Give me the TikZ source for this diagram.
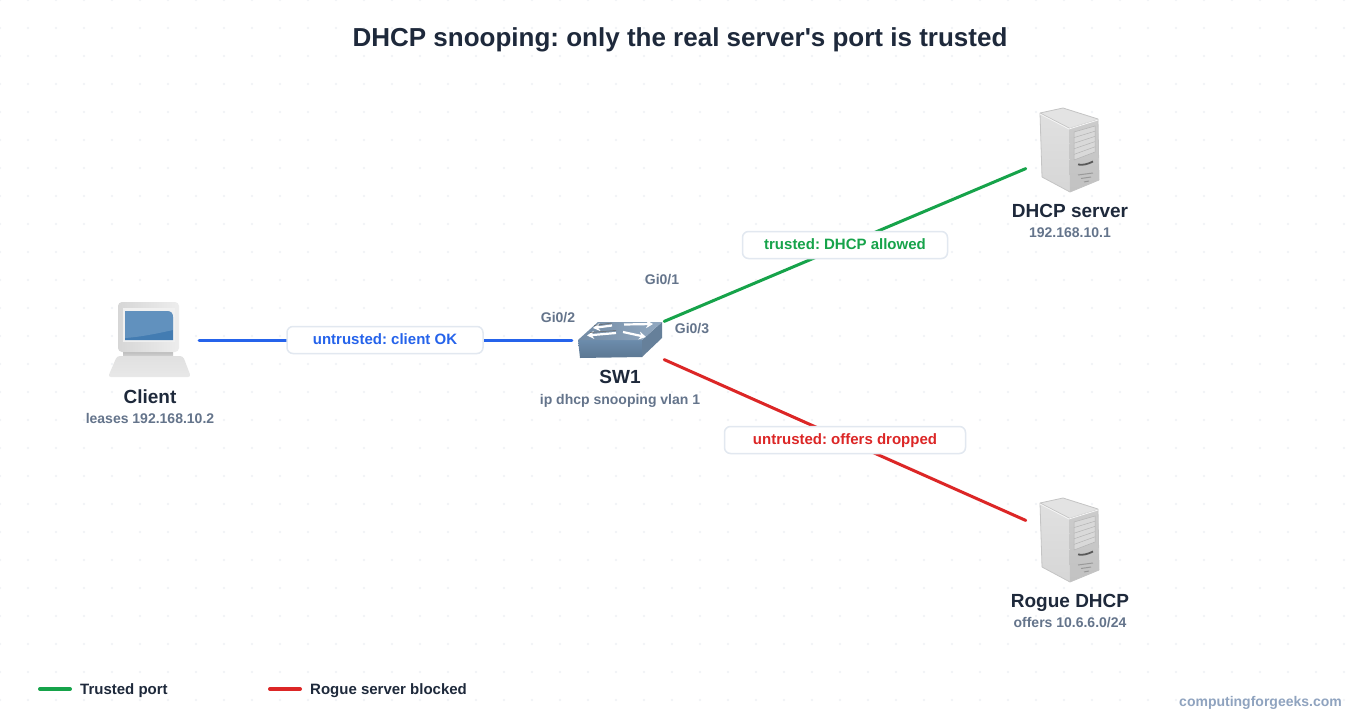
\documentclass[tikz,border=0pt]{standalone}
\usepackage{fontspec}
\setmainfont{Liberation Sans}
\usetikzlibrary{arrows.meta}
\definecolor{inkdark}{HTML}{1E293B}
\definecolor{inkgrey}{HTML}{64748B}
\definecolor{inkfoot}{HTML}{8FA3BF}
\definecolor{griddot}{HTML}{EEF1F5}
\definecolor{boxedge}{HTML}{E2E8F0}
\definecolor{okgreen}{HTML}{16A34A}
\definecolor{badred}{HTML}{DC2626}
\definecolor{okblue}{HTML}{2563EB}
\definecolor{srvedge}{HTML}{C4C4C4}
\definecolor{srvline}{HTML}{B4B4B4}
\definecolor{swtop}{HTML}{7F9AB6}
\definecolor{swfront}{HTML}{6C8CAC}
\definecolor{swside}{HTML}{66809A}
\definecolor{scrblue}{HTML}{437CB2}
\tikzset{
  device/.style={minimum width=88pt,minimum height=88pt,inner sep=0pt},
  devname/.style={font=\fontsize{19}{21}\selectfont\bfseries,text=inkdark,inner sep=0pt,anchor=base},
  devsub/.style={font=\fontsize{14}{16}\selectfont\bfseries,text=inkgrey,inner sep=0pt,anchor=base},
  portname/.style={font=\fontsize{14}{16}\selectfont\bfseries,text=inkgrey,inner sep=0pt,anchor=base},
  link/.style={line width=3pt,line cap=round},
  linklabel/.style={draw=boxedge,line width=1.5pt,fill=white,rounded corners=6pt,
    minimum height=27pt,inner sep=0pt,text height=11pt,text depth=3pt,
    font=\fontsize{15}{17}\selectfont\bfseries},
  legendtext/.style={font=\fontsize{15}{17}\selectfont\bfseries,text=inkdark,inner sep=0pt,anchor=base west}
}
\newcommand{\servericon}[2]{
  \begin{scope}[shift={(#1,#2)}]
    \fill[black!11] (-30,-37) -- (-7,-42) -- (28,-31) -- (-1,-22) -- cycle;
    \shade[top color=black!12,bottom color=black!16] (-30,-37) -- (-1,-22) -- (0,42) -- (-28,27) -- cycle;
    \shade[top color=black!20,bottom color=black!24] (-1,-22) -- (28,-31) -- (29,30) -- (0,42) -- cycle;
    \draw[srvedge,line width=.8pt,line join=round] (-1,-22) -- (-30,-37) -- (-7,-42) -- (28,-31) -- (29,30) -- (0,42) -- (-28,27) -- (-30,-37);
    \draw[black!4,line width=.8pt] (-30,-36) -- (-1,-21) -- (28,-30);
    \fill[black!15,draw=srvline,line width=.5pt] (4,-18) -- (25,-24) -- (25,2) -- (4,10) -- cycle;
    \foreach \i in {1,2,3,4} {
      \draw[srvline,line width=.5pt] (4,-18+5.6*\i) -- (25,-24+5.2*\i);
    }
    \draw[black!65,line width=1.8pt] (8,14.5) .. controls (13,15.5) and (18,14) .. (23,11.5);
    \draw[black!40,line width=1pt] (8,25) -- (23,23);
    \draw[black!40,line width=1pt] (11,28.5) -- (21,27);
    \draw[black!40,line width=1pt] (14,32) -- (19,31);
  \end{scope}
}
\newcommand{\clienticon}[2]{
  \begin{scope}[shift={(#1,#2)}]
    \shade[top color=black!28,bottom color=black!16] (-27,11) rectangle (23,17);
    \shade[top color=black!12,middle color=black!24,bottom color=black!9,rounded corners=3pt]
      (-33,16) -- (33,16) -- (41,37) -- (-42,37) -- cycle;
    \shade[left color=black!16,right color=black!7,rounded corners=4pt] (-32,-38) rectangle (29,12);
    \fill[white!94!black] (-27,-32) rectangle (25,2);
    \fill[scrblue] (-25,-29) -- (17,-29) .. controls (21,-29) and (23,-27) .. (23,-23) -- (23,0) -- (-25,0) -- cycle;
    \fill[white,opacity=.16] (17,-29) .. controls (21,-29) and (23,-27) .. (23,-23) -- (23,-10)
      .. controls (5,-6) and (-10,-3) .. (-25,-2) -- (-25,-29) -- cycle;
  \end{scope}
}
\newcommand{\switchicon}[2]{
  \begin{scope}[shift={(#1,#2)}]
    \shade[top color=swfront,bottom color=swfront!85!black] (-42,0) -- (22,0) -- (22,17) -- (-40,18) -- cycle;
    \fill[swside] (22,0) -- (42,-18) -- (42,-2) -- (22,17) -- cycle;
    \shade[left color=swtop!90!black,right color=swtop!85!white] (-22,-18) -- (42,-18) -- (22,0) -- (-42,0) -- cycle;
    \draw[white,line width=2.2pt,-{Stealth[length=7pt,width=8pt]}] (-8,-14.5) -- (-27,-12);
    \draw[white,line width=2.2pt,-{Stealth[length=7pt,width=8pt]}] (4,-15.5) -- (33,-16);
    \draw[white,line width=2.2pt,-{Stealth[length=7pt,width=8pt]}] (-4,-7) -- (-33,-4.5);
    \draw[white,line width=2.2pt,-{Stealth[length=7pt,width=8pt]}] (3,-8) -- (26,-3);
    \draw[black!60,line width=.5pt] (-26,-14.5) -- (-8,-17);
    \draw[black!60,line width=.5pt] (-30,-7.5) -- (-4,-9.5);
  \end{scope}
}

\begin{document}
\frenchspacing
\begin{tikzpicture}[x=1pt,y=-1pt]
  \useasboundingbox (0,0) rectangle (1360,720);
  \fill[white] (0,0) rectangle (1360,720);

  % dotted backdrop
  \foreach \x in {0,28,...,1344} {
    \foreach \y in {0,28,...,700} {
      \fill[griddot] (\x,\y) circle (1.1pt);
    }
  }

  \node[font=\fontsize{26}{30}\selectfont\bfseries,text=inkdark,inner sep=0pt,anchor=base] (title) at (680,46) {DHCP snooping: only the real server\textquotesingle s port is trusted};

  \node[device,minimum width=98pt] (client) at (150,340) {};
  \node[device] (sw) at (620,340) {};
  \node[device] (dhcp) at (1070,150) {};
  \node[device] (rogue) at (1070,540) {};

  \draw[link,okblue,shorten >=4pt] (client) -- (sw);
  \draw[link,okgreen] (sw) -- (dhcp);
  \draw[link,badred] (sw) -- (rogue);

  \clienticon{150}{340}
  \switchicon{620}{340}
  \servericon{1070}{150}
  \servericon{1070}{540}

  \node[devname] (clientname) at (150,403) {Client};
  \node[devsub] (clientsub) at (150,423) {leases 192.168.10.2};
  \node[devname] (swname) at (620,383) {SW1};
  \node[devsub] (swsub) at (620,404) {ip dhcp snooping vlan 1};
  \node[devname] (dhcpname) at (1070,217) {DHCP server};
  \node[devsub] (dhcpsub) at (1070,237) {192.168.10.1};
  \node[devname] (roguename) at (1070,607) {Rogue DHCP};
  \node[devsub] (roguesub) at (1070,627) {offers 10.6.6.0/24};

  \node[portname] (gi1) at (662,284) {Gi0/1};
  \node[portname] (gi2) at (558,322) {Gi0/2};
  \node[portname] (gi3) at (692,333) {Gi0/3};

  \node[linklabel,text=okblue,minimum width=196pt] (lblclient) at (385,340) {untrusted: client OK};
  \node[linklabel,text=okgreen,minimum width=205pt] (lbldhcp) at (845,245) {trusted: DHCP allowed};
  \node[linklabel,text=badred,minimum width=241pt] (lblrogue) at (845,440) {untrusted: offers dropped};

  % legend
  \coordinate (keya) at (40,689);
  \coordinate (keyb) at (70,689);
  \coordinate (keyc) at (270,689);
  \coordinate (keyd) at (300,689);
  \draw[link,line width=4pt,okgreen] (keya) -- (keyb);
  \draw[link,line width=4pt,badred] (keyc) -- (keyd);
  \node[legendtext] (keytrusted) at (80,694) {Trusted port};
  \node[legendtext] (keyrogue) at (310,694) {Rogue server blocked};

  \node[font=\fontsize{14}{16}\selectfont\bfseries,text=inkfoot,inner sep=0pt,anchor=base east] (footer) at (1342,706) {computingforgeeks.com};
\end{tikzpicture}
\end{document}
